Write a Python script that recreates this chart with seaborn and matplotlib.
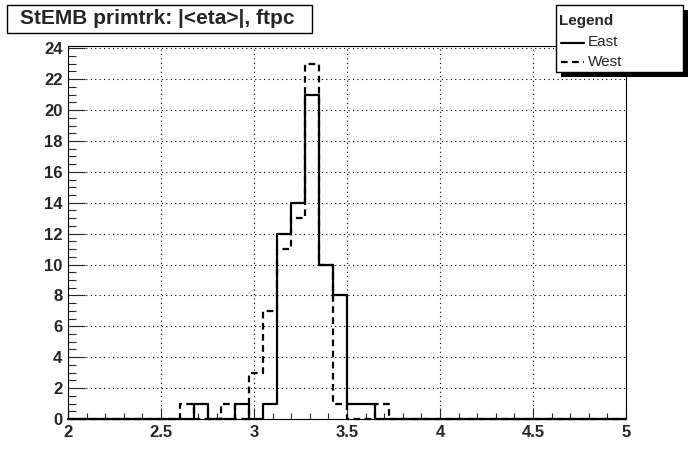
import numpy as np
import pandas as pd
import matplotlib
matplotlib.use("Agg")
import matplotlib.pyplot as plt
from matplotlib.patches import Rectangle
from matplotlib.lines import Line2D
from matplotlib.ticker import MultipleLocator
import seaborn as sns

# histogram binning (40 bins between 2 and 5)
x_min, x_max, n_bins = 2.0, 5.0, 40

# bin contents, one entry per bin
east = [0, 0, 0, 0, 0, 0, 0, 0, 0, 1,
        0, 0, 1, 0, 1, 12, 14, 21, 10, 8,
        1, 1, 0, 0, 0, 0, 0, 0, 0, 0,
        0, 0, 0, 0, 0, 0, 0, 0, 0, 0]
west = [0, 0, 0, 0, 0, 0, 0, 0, 1, 0,
        0, 1, 0, 3, 7, 11, 13, 23, 10, 1,
        0, 0, 1, 0, 0, 0, 0, 0, 0, 0,
        0, 0, 0, 0, 0, 0, 0, 0, 0, 0]

title = "StEMB primtrk: |<eta>|, ftpc"
series_names = ["East", "West"]

W, H = 696, 468


def fx(px):
    return px / W


def fy(py):
    return 1 - py / H


sns.set_style("white")
plt.rcParams['font.family'] = ['Liberation Sans', 'DejaVu Sans']

fig = plt.figure(figsize=(W / 100, H / 100), dpi=100)
ax = fig.add_axes([fx(68), fy(419), fx(626) - fx(68), fy(46) - fy(419)])

edges = np.linspace(x_min, x_max, n_bins + 1)
df = pd.DataFrame({"eta": (edges[:-1] + edges[1:]) / 2, "East": east, "West": west})

sns.histplot(data=df, x="eta", weights="East", bins=n_bins, binrange=(x_min, x_max),
             element="step", fill=False, color="black", linewidth=1.6,
             clip_on=False, ax=ax)
sns.histplot(data=df, x="eta", weights="West", bins=n_bins, binrange=(x_min, x_max),
             element="step", fill=False, color="black", linewidth=1.6,
             linestyle=(0, (3, 2)), clip_on=False, ax=ax)

ax.set_xlim(x_min, x_max)
ax.set_ylim(0, 24.15)
ax.set_xlabel("")
ax.set_ylabel("")

ax.xaxis.set_major_locator(MultipleLocator(0.5))
ax.xaxis.set_minor_locator(MultipleLocator(0.1))
ax.yaxis.set_major_locator(MultipleLocator(2))
ax.yaxis.set_minor_locator(MultipleLocator(0.5))
ax.xaxis.set_major_formatter(plt.FuncFormatter(lambda v, p: f"{v:g}"))

ax.tick_params(axis="x", which="major", direction="in", length=8, width=0.8,
               pad=4, labelsize=12, bottom=True, top=False)
ax.tick_params(axis="x", which="minor", direction="in", length=4, width=0.8,
               bottom=True, top=False)
ax.tick_params(axis="y", which="major", direction="in", length=12, width=0.8,
               pad=4, labelsize=12, left=True, right=False)
ax.tick_params(axis="y", which="minor", direction="in", length=6, width=0.8,
               left=True, right=False)
for lab in ax.get_xticklabels() + ax.get_yticklabels():
    lab.set_fontweight("bold")

ax.grid(True, which="major", color="black", linestyle=(0, (1, 3)), linewidth=0.8)
for sp in ax.spines.values():
    sp.set_linewidth(0.8)
    sp.set_color("black")

# title box
fig.patches.append(Rectangle((fx(7), fy(33)), fx(312) - fx(7), fy(5) - fy(33),
                             transform=fig.transFigure, facecolor="white",
                             edgecolor="black", linewidth=1))
fig.text(fx(157), fy(19), title, ha="center", va="center",
         fontsize=15, fontweight="bold")

# legend with black shadow
fig.patches.append(Rectangle((fx(561), fy(77)), fx(688) - fx(561), fy(10) - fy(77),
                             transform=fig.transFigure, facecolor="black",
                             edgecolor="black", linewidth=0))
fig.patches.append(Rectangle((fx(556), fy(72)), fx(683) - fx(556), fy(5) - fy(72),
                             transform=fig.transFigure, facecolor="white",
                             edgecolor="black", linewidth=1))
fig.text(fx(559), fy(21), "Legend", ha="left", va="center",
         fontsize=11, fontweight="bold")
fig.lines.append(Line2D([fx(561), fx(584)], [fy(43), fy(43)], transform=fig.transFigure,
                        color="black", linewidth=1.6))
fig.lines.append(Line2D([fx(561), fx(584)], [fy(62), fy(62)], transform=fig.transFigure,
                        color="black", linewidth=1.6, linestyle=(0, (3, 2))))
fig.text(fx(588), fy(42), series_names[0], ha="left", va="center", fontsize=11)
fig.text(fx(588), fy(62), series_names[1], ha="left", va="center", fontsize=11)

fig.savefig("out.png", dpi=100)
